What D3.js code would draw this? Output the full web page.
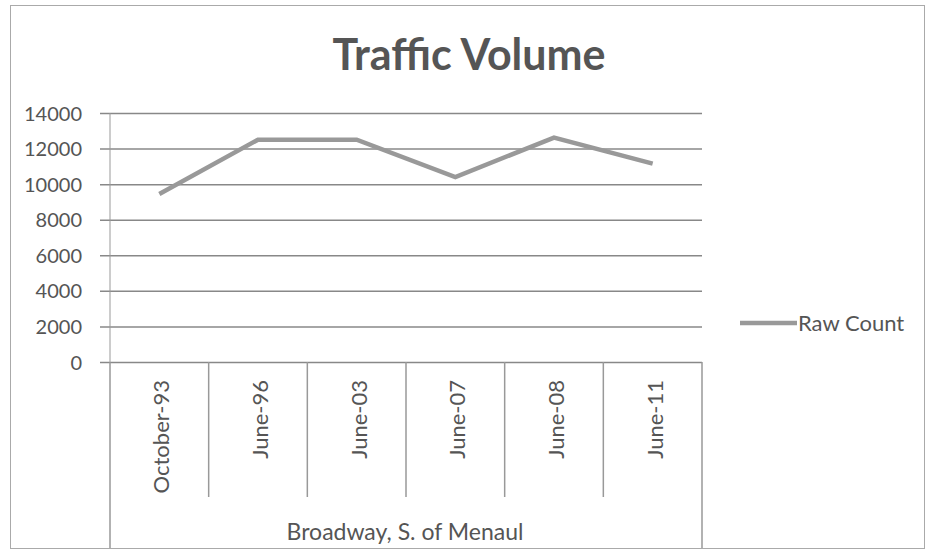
<!DOCTYPE html>
<html>
<head>
<meta charset="utf-8">
<title>traffic_volume</title>
<script src="https://d3js.org/d3.v7.min.js"></script>
<style>
  body { margin: 0; background: #fff; }
  text { font-family: Lato, "Open Sans", sans-serif; fill: #555; }
</style>
</head>
<body>
<svg id="chart" width="935" height="560"></svg>
<script>
// data
const categories = ["October-93", "June-96", "June-03", "June-07", "June-08", "June-11"]
const rawCount = [9450, 12500, 12500, 10400, 12620, 11150]
const yTicks = [0, 2000, 4000, 6000, 8000, 10000, 12000, 14000]
const groupLabel = "Broadway, S. of Menaul"
const seriesName = "Raw Count"

let svg = d3.select('#chart')

// outer frame
svg.append("rect")
    .attr("x", 10.5).attr("y", 5.5)
    .attr("width", 914).attr("height", 543)
    .attr("fill", "white").attr("stroke", "#aaa")

let plotL = 110, plotR = 702, plotT = 113, plotB = 362

let x = d3.scaleBand().domain(categories).range([plotL, plotR])
let y = d3.scaleLinear().domain([0, 14000]).range([plotB, plotT])

// title
svg.append("text")
    .attr("x", 469).attr("y", 70)
    .attr("text-anchor", "middle")
    .attr("font-size", 43).attr("font-weight", "bold")
    .style("fill", "#555")
    .text("Traffic Volume")

// gridlines + y labels
let yAxis = svg.append("g").attr("transform", `translate(${plotL},0)`)
    .call(d3.axisLeft(y).tickValues(yTicks).tickFormat(d3.format("d"))
        .tickSize(-(plotR - plotL)).tickSizeOuter(0).tickPadding(28))
yAxis.select(".domain").remove()
yAxis.selectAll(".tick line")
    .attr("x1", -10)
    .attr("stroke", "#888").attr("stroke-width", 1.5)
yAxis.selectAll(".tick text")
    .attr("font-size", 20).attr("font-family", "Lato, sans-serif")
    .attr("dy", "0.35em")
    .style("fill", "#555")

// y axis line
svg.append("line")
    .attr("x1", plotL).attr("x2", plotL).attr("y1", plotT).attr("y2", plotB)
    .attr("stroke", "#999").attr("stroke-width", 1)

// category dividers
let edges = categories.map(c => x(c)).concat([plotR])
svg.selectAll("line.div").data(edges)
    .enter().append("line")
    .attr("class", "div")
    .attr("x1", d => d).attr("x2", d => d)
    .attr("y1", plotB)
    .attr("y2", (d, i) => (i == 0 || i == edges.length - 1) ? 548 : 497)
    .attr("stroke", "#999").attr("stroke-width", 1.5)

// category labels (rotated)
svg.selectAll("text.cat").data(categories)
    .enter().append("text")
    .attr("class", "cat")
    .attr("transform", d => `translate(${x(d) + x.bandwidth() / 2 + 10},380) rotate(-90)`)
    .attr("text-anchor", "end")
    .attr("font-size", 22)
    .text(d => d)

svg.append("text")
    .attr("x", 405).attr("y", 540)
    .attr("text-anchor", "middle")
    .attr("font-size", 23)
    .text(groupLabel)

// series line
let line = d3.line()
    .x((d, i) => x(categories[i]) + x.bandwidth() / 2)
    .y(d => y(d))

svg.append("path")
    .datum(rawCount)
    .attr("d", line)
    .attr("fill", "none")
    .attr("stroke", "#999").attr("stroke-width", 4.5)
    .attr("stroke-linejoin", "miter")

// legend
svg.append("line")
    .attr("x1", 740).attr("x2", 797).attr("y1", 323).attr("y2", 323)
    .attr("stroke", "#999").attr("stroke-width", 4.5)
svg.append("text")
    .attr("x", 798).attr("y", 331)
    .attr("font-size", 22)
    .text(seriesName)
</script>
</body>
</html>
